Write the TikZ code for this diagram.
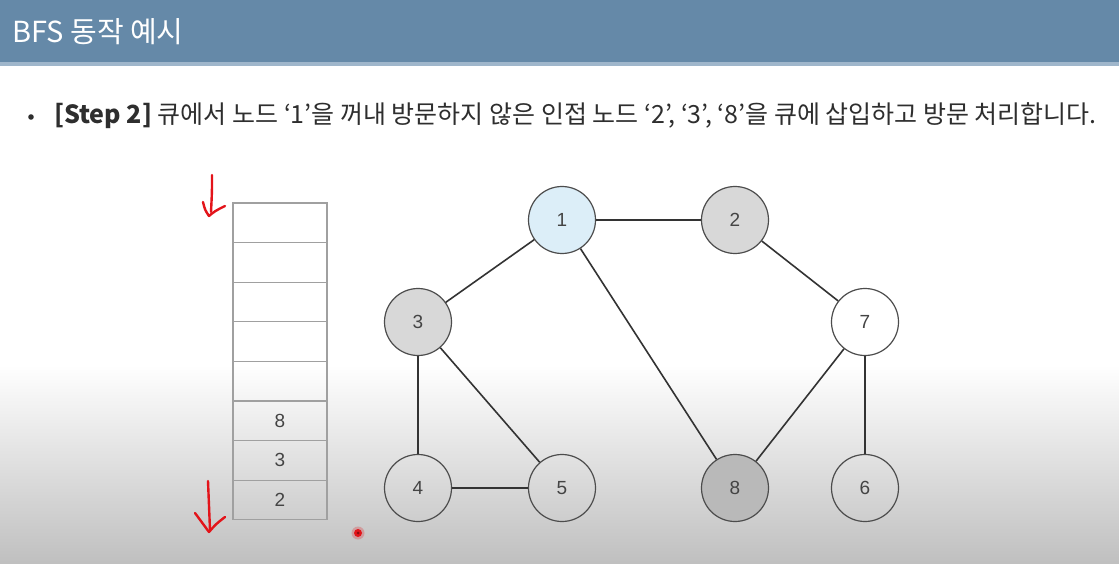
\documentclass[tikz,border=0pt]{standalone}
\usepackage{fontspec}
\setmainfont{Liberation Sans}
\newfontfamily\kr{Noto Sans CJK KR}
\usetikzlibrary{shapes.geometric}
\definecolor{hdr}{HTML}{6589A8}
\definecolor{hdrline}{HTML}{9FB6CB}
\definecolor{txt}{HTML}{2E2E2E}
\definecolor{numc}{HTML}{444444}
\definecolor{visited}{HTML}{D8D8D8}
\definecolor{dark}{HTML}{B9B9B9}
\definecolor{cur}{HTML}{DCEEF8}
\definecolor{qline}{HTML}{A0A0A0}
\definecolor{pen}{HTML}{E3141A}
\tikzset{
  gnode/.style={circle, draw=black!70, line width=1.2pt, minimum size=67pt, inner sep=0pt,
    font=\fontsize{19}{19}\selectfont, text=numc},
  gedge/.style={draw=black!80, line width=1.6pt},
  qcell/.style={rectangle, draw=qline, line width=1.2pt, minimum width=94pt, minimum height=39.6pt,
    inner sep=0pt, font=\fontsize{19}{19}\selectfont, text=numc},
  penline/.style={draw=pen, line width=2.4pt, line cap=round, line join=round}
}
\begin{document}
\begin{tikzpicture}[x=1pt,y=-1pt]
\useasboundingbox (0,0) rectangle (1119,564);
% background
\fill[white] (0,0) rectangle (1119,564);
\shade[top color=white, bottom color=black!25] (0,365) rectangle (1119,564);
% header
\fill[hdr] (0,0) rectangle (1119,63);
\fill[hdrline] (0,62) rectangle (1119,66);
\node[anchor=west, text=white, inner sep=0pt, font=\kr\fontsize{29}{29}\selectfont] (title) at (12,32) {BFS 동작 예시};
% bullet
\fill[txt] (31,117) circle (2.8pt);
\node[anchor=west, text=txt, inner sep=0pt, font=\kr\fontsize{25}{25}\selectfont] (bullet) at (54,116)
  {{\bfseries [Step 2]} 큐에서 노드 ‘1’을 꺼내 방문하지 않은 인접 노드 ‘2’, ‘3’, ‘8’을 큐에 삽입하고 방문 처리합니다.};
% queue
\foreach \i/\t in {1/,2/,3/,4/,5/,6/8,7/3,8/2} {
  \node[qcell] (q\i) at (280,{203+39.6*(\i-0.5)}) {\t};
}
% graph nodes
\node[gnode, fill=cur] (n1) at (562,220) {1};
\node[gnode, fill=visited] (n2) at (735,220) {2};
\node[gnode, fill=visited] (n3) at (418,322) {3};
\node[gnode] (n7) at (865,322) {7};
\node[gnode] (n4) at (418,488) {4};
\node[gnode] (n5) at (562,488) {5};
\node[gnode, fill=dark] (n8) at (735,488) {8};
\node[gnode] (n6) at (865,488) {6};
% edges
\draw[gedge] (n1) -- (n2);
\draw[gedge] (n1) -- (n3);
\draw[gedge] (n1) -- (n8);
\draw[gedge] (n2) -- (n7);
\draw[gedge] (n3) -- (n4);
\draw[gedge] (n3) -- (n5);
\draw[gedge] (n4) -- (n5);
\draw[gedge] (n7) -- (n8);
\draw[gedge] (n7) -- (n6);
% red pen marks
\draw[penline] (212,175) .. controls (212,192) .. (211,212);
\draw[penline] (203,202) .. controls (205,210) .. (209,216) .. controls (215,211) .. (225,206);
\draw[penline] (208,481) .. controls (209,505) .. (210,530);
\draw[penline] (195,513) .. controls (202,522) .. (209,532) .. controls (216,524) .. (225,517);
\fill[pen, opacity=0.25] (358,533) circle (6.5pt);
\fill[pen] (358,533) circle (4pt);
\fill[pen!60!black] (358,533) circle (1.5pt);
\end{tikzpicture}
\end{document}
